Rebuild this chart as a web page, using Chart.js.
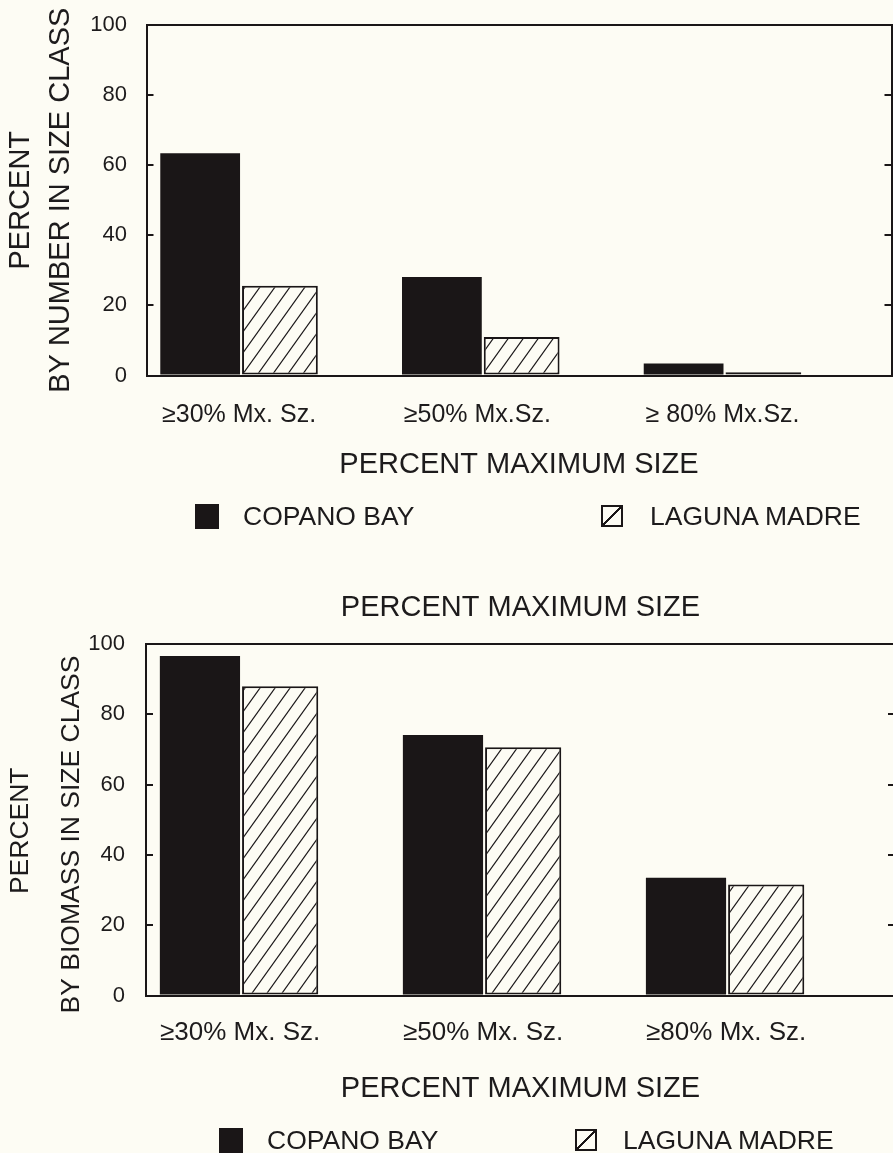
<!DOCTYPE html>
<html>
<head>
<meta charset="utf-8">
<script src="https://cdn.jsdelivr.net/npm/chart.js@4.4.1/dist/chart.umd.min.js"></script>
<style>
html,body{margin:0;padding:0;background:#fdfcf4;overflow:hidden;width:893px;height:1153px;}
#wrap{position:relative;width:893px;height:1153px;overflow:hidden;background:#fdfcf4;}
canvas{position:absolute;left:0;display:block;}
.lt{position:absolute;font-family:"Liberation Sans",Arial,Helvetica,sans-serif;font-size:26.5px;line-height:26px;color:#1d1b1c;white-space:nowrap;}
.bb{position:absolute;background:#1a1617;}
.hb{position:absolute;box-sizing:border-box;border:2px solid #1a1617;
 background:linear-gradient(to bottom right,transparent calc(50% - 1px),#1a1617 calc(50% - 1px),#1a1617 calc(50% + 1px),transparent calc(50% + 1px));}
</style>
</head>
<body>
<div id="wrap">
<canvas id="c1" width="893" height="590" style="top:0"></canvas>
<canvas id="c2" width="900" height="563" style="top:590px"></canvas>
</div>
<script>
// ---- data ----
const categoriesNumber = ["\u226530% Mx. Sz.", "\u226550% Mx.Sz.", "\u2265 80% Mx.Sz."];
const categoriesBiomass = ["\u226530% Mx. Sz.", "\u226550% Mx. Sz.", "\u226580% Mx. Sz."];
const seriesNames = ["COPANO BAY", "LAGUNA MADRE"];
const copanoNumber = [63.4, 28.1, 3.4];
const lagunaNumber = [25.6, 11.0, 0.9];
const copanoBiomass = [96.6, 74.1, 33.5];
const lagunaBiomass = [88.0, 70.6, 31.6];
const yTickValues = [0, 20, 40, 60, 80, 100];
const xTitle = "PERCENT MAXIMUM SIZE";
const yTitleNumber = ["PERCENT", "BY NUMBER IN SIZE CLASS"];
const yTitleBiomass = ["PERCENT", "BY BIOMASS IN SIZE CLASS"];

// ---- style ----
const INK = "#1a1617";
const TXT = "#1d1b1c";
const BG = "#fdfcf4";
const FAM = '"Liberation Sans", Arial, Helvetica, sans-serif';

function hatchPattern() {
  const c = document.createElement("canvas");
  c.width = 15; c.height = 21;
  const g = c.getContext("2d");
  g.fillStyle = BG; g.fillRect(0, 0, 15, 21);
  g.strokeStyle = INK; g.lineWidth = 1.2;
  for (let k = -2; k <= 2; k++) {
    g.beginPath();
    g.moveTo(k * 15 - 15, 42);
    g.lineTo(k * 15 + 30, -21);
    g.stroke();
  }
  return g.createPattern(c, "repeat");
}

function toPoints(arr) { return arr.map((v, i) => ({ x: i + 1, y: v })); }

function makeChart(canvas, o) {
  // trailing spaces nudge the rotated title lines downward (styling only)
  const yTitleText = o.yTitle.map((t, i) => t + " ".repeat(o.yShift[i]));
  return new Chart(canvas, {
    type: "bar",
    data: {
      datasets: [
        { label: seriesNames[0], data: toPoints(o.a), backgroundColor: INK, borderWidth: 0,
          categoryPercentage: 0.66, barPercentage: 1.0, xAxisID: "x", yAxisID: "y" },
        { label: seriesNames[1], data: toPoints(o.b), backgroundColor: hatchPattern(), borderColor: INK,
          borderWidth: 2, borderSkipped: false, categoryPercentage: 0.66, barPercentage: 0.95, xAxisID: "x", yAxisID: "y" }
      ]
    },
    options: {
      responsive: false, animation: false, devicePixelRatio: 1,
      layout: { padding: o.pad },
      plugins: {
        legend: { display: false },
        tooltip: { enabled: false },
        title: o.title ? {
          display: true, text: o.title, color: TXT, fullSize: false,
          font: { family: FAM, size: 29, weight: "normal", lineHeight: 1.2 },
          padding: { top: 0.6, bottom: 18.6 }
        } : { display: false }
      },
      scales: {
        x: {
          type: "linear", axis: "x", position: "bottom", min: 0.613, max: 3.695, offset: false,
          grid: { display: false, drawTicks: false },
          border: { display: true, color: INK, width: 2 },
          afterBuildTicks: s => { s.ticks = o.cats.map((_, i) => ({ value: i + 1 })); },
          ticks: {
            autoSkip: false, maxRotation: 0, minRotation: 0, align: "start",
            labelOffset: o.labelOffset, padding: o.xPad, color: TXT,
            font: { family: FAM, size: o.xFont },
            callback: v => o.cats[Math.round(v) - 1] || ""
          },
          title: { display: true, text: xTitle, color: TXT,
            font: { family: FAM, size: 29, lineHeight: 1.2 }, padding: { top: 0, bottom: 0 } },
          afterFit: s => { s.height = o.xH; s.paddingLeft = 0; s.paddingRight = 0; }
        },
        xT: {
          type: "linear", axis: "x", position: "top", min: 0.613, max: 3.695, offset: false,
          grid: { display: false, drawTicks: false },
          ticks: { display: false },
          border: { display: true, color: INK, width: 2 },
          afterFit: s => { s.height = 0; s.paddingLeft = 0; s.paddingRight = 0; }
        },
        y: {
          type: "linear", axis: "y", position: "left", min: 0, max: 100,
          afterBuildTicks: s => { s.ticks = yTickValues.map(v => ({ value: v })); },
          grid: { display: true, drawOnChartArea: false, drawTicks: true, tickLength: -7, color: INK, lineWidth: 2 },
          border: { display: true, color: INK, width: 2 },
          ticks: { padding: o.yPad, color: TXT, font: { family: FAM, size: 22 } },
          title: { display: true, text: yTitleText, color: TXT,
            font: { family: FAM, size: o.yFont, lineHeight: o.yLH / o.yFont }, padding: { top: o.yTitleTop, bottom: 0 } },
          afterFit: s => { s.width = o.yW; s.paddingTop = 0; s.paddingBottom = 0; }
        },
        yR: {
          type: "linear", axis: "y", position: "right", min: 0, max: 100,
          afterBuildTicks: s => { s.ticks = yTickValues.map(v => ({ value: v })); },
          grid: { display: true, drawOnChartArea: false, drawTicks: true, tickLength: -7, color: INK, lineWidth: 2 },
          border: { display: true, color: INK, width: 2 },
          ticks: { display: false },
          afterFit: s => { s.width = 0; s.paddingTop = 0; s.paddingBottom = 0; }
        }
      }
    }
  });
}

makeChart(document.getElementById("c1"), {
  a: copanoNumber, b: lagunaNumber, cats: categoriesNumber, yTitle: yTitleNumber, yShift: [0, 0],
  pad: { left: 0, right: 1.5, top: 25, bottom: 107.5 },
  xH: 107, xPad: 24.5, xFont: 25, labelOffset: -78, yPad: 26.5, yW: 146.5,
  yFont: 29, yLH: 40, yTitleTop: 1, title: null
});
makeChart(document.getElementById("c2"), {
  a: copanoBiomass, b: lagunaBiomass, cats: categoriesBiomass, yTitle: yTitleBiomass, yShift: [3, 4],
  pad: { left: 0, right: 5, top: 0, bottom: 46.5 },
  xH: 111, xPad: 22, xFont: 26, labelOffset: -80, yPad: 28, yW: 146,
  yFont: 26.5, yLH: 51, yTitleTop: -4.5, title: xTitle
});

// ---- legends (HTML) ----
const wrap = document.getElementById("wrap");
function legend(top, bx, tx, hx, htx) {
  const b = document.createElement("div"); b.className = "bb";
  b.style.cssText = `left:${bx}px;top:${top - 12}px;width:24px;height:25px;`;
  const t1 = document.createElement("div"); t1.className = "lt";
  t1.style.cssText = `left:${tx}px;top:${top - 13}px;`; t1.textContent = seriesNames[0];
  const h = document.createElement("div"); h.className = "hb";
  h.style.cssText = `left:${hx}px;top:${top - 11}px;width:22px;height:22px;`;
  const t2 = document.createElement("div"); t2.className = "lt";
  t2.style.cssText = `left:${htx}px;top:${top - 13}px;`; t2.textContent = seriesNames[1];
  [b, t1, h, t2].forEach(e => wrap.appendChild(e));
}
legend(516, 195, 243, 601, 650);
legend(1140, 219, 267, 575, 623);
</script>
</body>
</html>
